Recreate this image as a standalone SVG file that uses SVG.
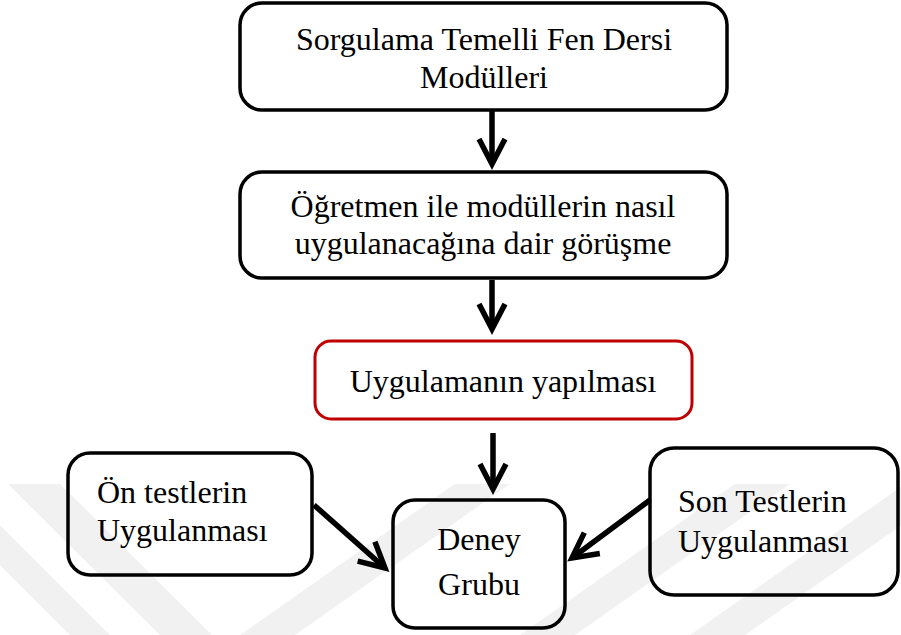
<svg xmlns="http://www.w3.org/2000/svg" width="901" height="635" viewBox="0 0 901 635">
  <defs>
    <style>
      .box { fill: none; stroke: #000; stroke-width: 3.5; }
      .box-red { fill: none; stroke: #c00000; stroke-width: 3; }
      .label { font-family: "Liberation Serif", "Times New Roman", serif; font-size: 32px; fill: #000; }
      .mid { text-anchor: middle; }
      .edge { fill: none; stroke: #000; stroke-width: 5.5; marker-end: url(#head); }
      .wm { fill: #f1f1f1; }
    </style>
    <marker id="head" markerUnits="userSpaceOnUse" markerWidth="60" markerHeight="60" refX="0" refY="0" orient="auto" overflow="visible">
      <path d="M -25,-13 L 0,0 L -25,13" fill="none" stroke="#000" stroke-width="5.5" stroke-linejoin="miter"/>
    </marker>
    <clipPath id="band">
      <rect x="0" y="484" width="901" height="151"/>
    </clipPath>
  </defs>

  <rect width="901" height="635" fill="#fff"/>

  <!-- faint striped background mark -->
  <g id="watermark" clip-path="url(#band)">
    <polygon class="wm" points="8,484 60,484 212,635 160,635"/>
    <polygon class="wm" points="0,525 110,635 70,635 0,565"/>
    <polygon class="wm" points="240,635 295,635 510,484 455,484"/>
    <polygon class="wm" points="520,635 575,635 790,484 735,484"/>
    <polygon class="wm" points="690,635 745,635 960,484 905,484"/>
  </g>

  <g id="connectors">
    <path class="edge" d="M 492,110 L 492,164"/>
    <path class="edge" d="M 492,280 L 492,329"/>
    <path class="edge" d="M 493,433 L 493,489"/>
    <path class="edge" d="M 314,505 L 385,568"/>
    <path class="edge" d="M 650,500 L 572,558"/>
  </g>

  <g id="n1">
    <rect class="box" x="240" y="3" width="487" height="107" rx="22"/>
    <text class="label mid" x="484" y="50">Sorgulama Temelli Fen Dersi</text>
    <text class="label mid" x="484" y="88">Modülleri</text>
  </g>

  <g id="n2">
    <rect class="box" x="240" y="172" width="487" height="106" rx="22"/>
    <text class="label mid" x="483" y="217">Öğretmen ile modüllerin nasıl</text>
    <text class="label mid" x="483" y="254">uygulanacağına dair görüşme</text>
  </g>

  <g id="n3">
    <rect class="box-red" x="315" y="341" width="377" height="78" rx="16"/>
    <text class="label mid" x="503" y="392">Uygulamanın yapılması</text>
  </g>

  <g id="n4">
    <rect class="box" x="68" y="453" width="244" height="122" rx="22"/>
    <text class="label" x="97" y="503">Ön testlerin</text>
    <text class="label" x="97" y="541">Uygulanması</text>
  </g>

  <g id="n5">
    <rect class="box" x="393" y="500" width="172" height="128" rx="22"/>
    <text class="label mid" x="479" y="550">Deney</text>
    <text class="label mid" x="479" y="595">Grubu</text>
  </g>

  <g id="n6">
    <rect class="box" x="650" y="448" width="248" height="147" rx="24"/>
    <text class="label" x="678" y="512">Son Testlerin</text>
    <text class="label" x="678" y="552">Uygulanması</text>
  </g>
</svg>
